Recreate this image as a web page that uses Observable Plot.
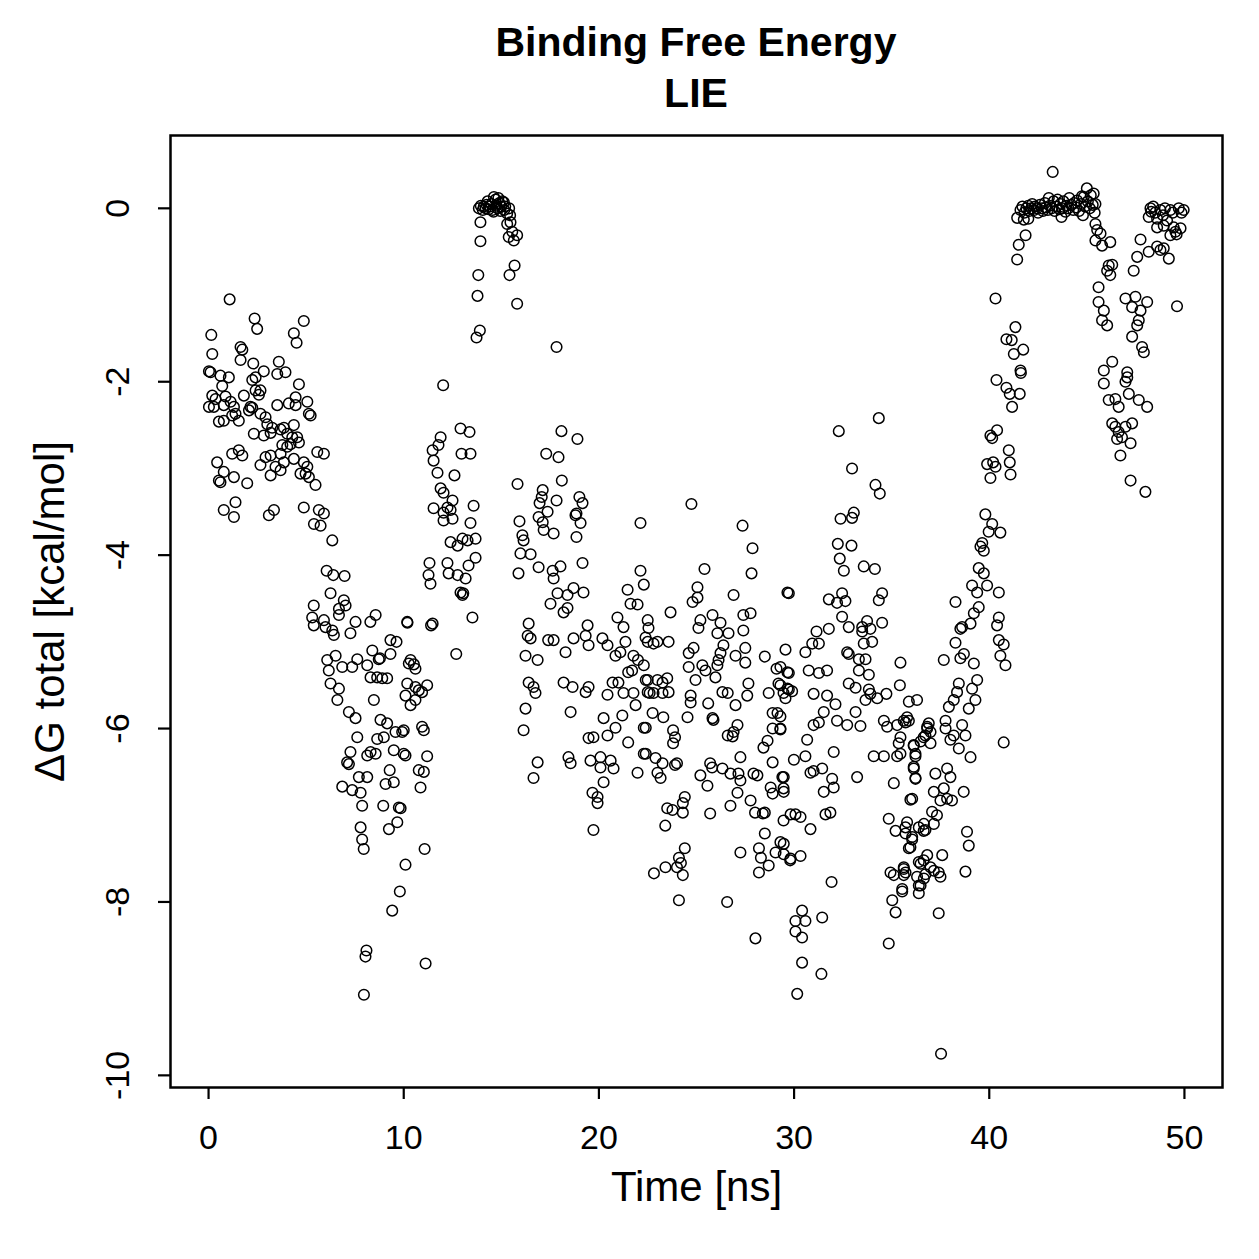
<!DOCTYPE html>
<html><head><meta charset="utf-8">
<script src="https://cdn.jsdelivr.net/npm/d3@7"></script>
<script src="https://cdn.jsdelivr.net/npm/@observablehq/plot@0.6"></script>
<style>
body{margin:0;background:#fff;}
#title{width:1259px;box-sizing:border-box;padding:17px 37px 0 170px;text-align:center;font:bold 41px/51px "Liberation Sans",Arial,sans-serif;height:120px;color:#000;}
#chart svg{display:block;}
</style></head><body>
<div id="title"></div>
<div id="chart"></div>
<script>
const titleLines = ["Binding Free Energy", "LIE"];
const xLabel = "Time [ns]";
const yLabel = "ΔG total [kcal/mol]";
const xTicks = [0, 10, 20, 30, 40, 50];
const yTicks = [0, -2, -4, -6, -8, -10];

// [time (ns), ΔG total (kcal/mol)]
const early = [[1.08,-1.05],[2.36,-1.27],[2.49,-1.39],[4.88,-1.3],[4.37,-1.44],[4.51,-1.55],[0.14,-1.46],[0.19,-1.68],[0.02,-1.88],[0.1,-1.89],[1.64,-1.6],[1.73,-1.63],[1.64,-1.75],[2.29,-1.79],[2.41,-1.95],[2.24,-1.98],[2.83,-1.88],[3.6,-1.77],[3.52,-1.91],[3.94,-1.89],[4.63,-2.03],[0.61,-1.93],[1.04,-1.95],[0.7,-2.05],[0.19,-2.16],[0.36,-2.2],[0.27,-2.29],[0.02,-2.29],[0.87,-2.17],[1.13,-2.23],[0.78,-2.27],[1.3,-2.29],[1.81,-2.16],[2.15,-2.29],[2.41,-2.1],[2.58,-2.15],[2.66,-2.1],[3.52,-2.27],[4.11,-2.25],[4.46,-2.27],[4.46,-2.18],[5.06,-2.23],[5.14,-2.37],[5.23,-2.39],[0.53,-2.46],[0.78,-2.45],[1.21,-2.39],[1.38,-2.37],[1.55,-2.45],[2.07,-2.33],[2.24,-2.3],[2.66,-2.37],[2.92,-2.41],[3.01,-2.49],[3.26,-2.53],[3.18,-2.59],[3.69,-2.55],[3.86,-2.53],[4.03,-2.6],[4.37,-2.5],[4.29,-2.64],[4.54,-2.64],[4.63,-2.7],[4.2,-2.72],[4.03,-2.75],[3.78,-2.73],[0.44,-2.93],[0.78,-3.04],[0.53,-3.14],[0.61,-3.16],[1.3,-3.1],[1.98,-3.17],[1.38,-3.39],[0.78,-3.48],[1.3,-3.56],[1.21,-2.83],[1.55,-2.79],[1.73,-2.85],[2.32,-2.6],[2.83,-2.62],[2.92,-2.87],[3.18,-2.85],[3.69,-2.83],[2.66,-2.96],[3.43,-2.98],[3.69,-3.02],[3.18,-3.08],[3.86,-2.93],[4.37,-2.89],[4.88,-2.93],[4.71,-3.06],[4.97,-3.06],[5.14,-3.1],[5.06,-2.98],[5.48,-3.19],[5.57,-2.81],[5.91,-2.83],[5.65,-3.48],[5.91,-3.52],[5.4,-3.64],[5.74,-3.66],[3.09,-3.54],[3.35,-3.48],[4.88,-3.45]];

const drop = [[6.34,-3.83],[6.05,-4.18],[6.39,-4.23],[6.97,-4.24],[6.25,-4.44],[6.93,-4.52],[7.02,-4.58],[6.68,-4.62],[6.68,-4.69],[5.39,-4.58],[5.31,-4.72],[5.39,-4.81],[5.91,-4.75],[5.99,-4.83],[6.34,-4.87],[6.42,-4.92],[7.27,-4.9],[7.53,-4.77],[8.29,-4.77],[8.56,-4.69],[10.18,-4.77],[11.4,-4.81],[9.32,-4.98],[9.63,-5.0],[8.39,-5.1],[8.78,-5.19],[9.32,-5.14],[10.35,-5.21],[10.52,-5.26],[10.6,-5.31],[10.26,-5.25],[10.18,-5.48],[10.6,-5.52],[10.77,-5.56],[10.94,-5.58],[11.2,-5.5],[10.09,-5.62],[10.35,-5.73],[10.6,-5.67],[6.08,-5.21],[6.51,-5.16],[6.85,-5.29],[6.16,-5.33],[6.25,-5.48],[6.68,-5.54],[6.6,-5.67],[7.62,-5.2],[7.36,-5.29],[8.13,-5.27],[8.72,-5.2],[8.3,-5.41],[8.64,-5.41],[8.9,-5.42],[9.15,-5.42],[8.47,-5.67],[7.19,-5.81],[7.53,-5.88],[8.81,-5.9],[9.15,-5.94],[9.58,-6.04],[10.0,-6.02],[9.92,-6.04],[10.94,-5.98],[11.03,-6.02],[8.64,-6.12],[8.98,-6.1],[7.62,-6.1],[7.27,-6.27],[7.1,-6.39],[7.19,-6.41],[8.13,-6.31],[8.3,-6.27],[8.56,-6.29],[9.49,-6.25],[10.0,-6.29],[10.09,-6.31],[11.2,-6.32],[7.7,-6.56],[8.13,-6.56],[6.85,-6.67],[7.36,-6.71],[7.79,-6.74],[7.87,-6.89],[9.28,-6.48],[9.07,-6.64],[9.49,-6.62],[10.77,-6.48],[11.03,-6.5],[10.86,-6.68],[8.95,-6.89],[9.75,-6.91],[9.84,-6.92],[9.67,-7.08],[9.24,-7.16],[7.79,-7.14],[7.87,-7.28],[7.95,-7.39],[11.07,-7.39],[10.09,-7.57],[9.8,-7.88],[9.41,-8.1],[8.09,-8.56],[8.04,-8.63],[11.12,-8.71],[7.96,-9.07]];

const rise1 = [[12.02,-2.04],[12.91,-2.54],[13.37,-2.58],[11.89,-2.64],[11.78,-2.73],[11.48,-2.79],[11.53,-2.91],[11.73,-3.05],[12.96,-2.83],[13.42,-2.83],[12.6,-3.08],[11.89,-3.23],[12.04,-3.28],[12.5,-3.37],[12.24,-3.45],[11.53,-3.46],[12.04,-3.51],[12.5,-3.58],[12.04,-3.6],[12.4,-3.48],[13.58,-3.43],[13.42,-3.63],[12.4,-3.85],[12.76,-3.89],[13.01,-3.81],[13.27,-3.83],[13.68,-3.81],[13.68,-4.03],[13.32,-4.12],[11.32,-4.09],[11.27,-4.23],[11.37,-4.33],[12.24,-4.09],[12.3,-4.21],[12.76,-4.23],[13.17,-4.27],[12.91,-4.43],[13.01,-4.46],[10.19,-4.78],[11.48,-4.79],[13.52,-4.72],[12.69,-5.14],[13.05,-4.44]];

const bound1 = [[13.93,-0.16],[13.93,-0.38],[13.82,-0.77],[13.78,-1.01],[13.9,-1.41],[13.73,-1.49],[15.42,-0.77],[15.68,-0.66],[15.81,-1.1],[15.3,-0.18],[15.47,-0.16],[15.56,-0.27],[15.81,-0.31],[15.64,-0.37],[15.38,-0.33],[14.62,0.13],[15.13,0.07],[13.85,0.0],[13.95,0.03],[14.05,-0.02],[14.1,0.02],[14.2,0.0],[14.25,0.04],[14.35,-0.01],[14.4,0.02],[14.5,0.05],[14.55,-0.02],[14.7,0.1],[14.75,0.03],[14.8,0.0],[14.9,0.06],[14.95,-0.03],[15.0,0.02],[15.05,0.08],[15.15,-0.02],[15.2,0.02],[15.3,-0.06],[15.4,0.0],[15.45,-0.08],[14.3,0.08],[14.6,-0.04],[14.85,0.12]];

const mid = [[17.83,-1.6],[18.08,-2.57],[18.9,-2.66],[17.3,-2.83],[17.93,-2.87],[18.1,-3.14],[15.83,-3.18],[17.12,-3.25],[17.07,-3.33],[16.96,-3.4],[17.83,-3.37],[17.37,-3.5],[19.0,-3.33],[19.16,-3.4],[18.85,-3.52],[16.91,-3.56],[17.12,-3.62],[17.17,-3.71],[17.68,-3.75],[18.8,-3.54],[19.06,-3.63],[18.85,-3.79],[15.93,-3.61],[16.08,-3.77],[16.14,-3.83],[15.98,-3.98],[16.5,-3.99],[15.88,-4.21],[22.13,-3.63],[16.91,-4.14],[17.63,-4.18],[18.03,-4.13],[17.68,-4.27],[19.16,-4.09],[22.13,-4.18],[22.3,-4.34],[21.47,-4.4],[21.62,-4.56],[21.98,-4.57],[17.88,-4.44],[18.39,-4.46],[18.7,-4.38],[19.21,-4.43],[17.52,-4.56],[18.19,-4.66],[18.39,-4.61],[16.4,-4.79],[16.35,-4.93],[16.5,-4.96],[17.4,-4.98],[17.68,-4.98],[18.7,-4.96],[19.42,-4.81],[19.32,-4.93],[19.47,-5.04],[16.24,-5.16],[16.86,-5.21],[18.29,-5.12],[20.95,-4.72],[21.26,-4.83],[20.18,-4.96],[20.44,-5.04],[20.85,-5.16],[21.1,-5.12],[21.36,-5.0],[21.77,-5.16],[22.0,-5.21],[21.5,-5.35],[21.7,-5.33],[22.3,-5.27],[22.5,-4.75],[22.5,-5.0],[16.4,-5.47],[16.65,-5.52],[16.75,-5.59],[18.19,-5.47],[18.65,-5.52],[19.32,-5.58],[19.47,-5.52],[20.44,-5.61],[20.7,-5.47],[21.0,-5.47],[21.26,-5.59],[21.77,-5.59],[22.5,-5.44],[22.6,-5.59],[21.88,-5.73],[21.2,-5.85],[16.24,-5.77],[16.14,-6.02],[18.55,-5.81],[20.24,-5.88],[20.85,-5.99],[20.44,-6.08],[19.72,-6.1],[19.47,-6.11],[21.5,-6.16],[22.3,-5.99],[16.86,-6.39],[16.65,-6.57],[18.44,-6.33],[18.55,-6.4],[19.57,-6.37],[20.08,-6.33],[20.6,-6.37],[20.75,-6.46],[20.08,-6.45],[21.98,-6.51],[22.3,-6.29],[20.24,-6.62],[19.67,-6.74],[19.93,-6.79],[19.93,-6.86],[19.72,-7.17],
[24.74,-3.41],[27.36,-3.66],[27.87,-3.92],[27.82,-4.21],[25.41,-4.16],[25.05,-4.37],[25.05,-4.49],[24.8,-4.54],[26.9,-4.46],[29.66,-4.43],[23.67,-4.66],[27.4,-4.69],[27.77,-4.67],[22.54,-4.84],[22.39,-4.95],[22.8,-5.02],[23.57,-5.0],[23.0,-5.0],[25.2,-4.75],[25.1,-4.84],[25.82,-4.69],[26.23,-4.78],[26.07,-4.9],[26.64,-4.9],[27.4,-4.87],[26.38,-5.04],[26.23,-5.13],[26.13,-5.21],[27.0,-5.16],[27.5,-5.07],[27.5,-5.24],[24.6,-5.13],[24.85,-5.07],[24.6,-5.29],[25.3,-5.27],[25.46,-5.33],[26.07,-5.27],[25.97,-5.41],[24.95,-5.44],[28.5,-5.17],[29.1,-5.31],[29.66,-5.35],[29.2,-5.48],[28.7,-5.59],[29.46,-5.59],[29.66,-5.54],[22.4,-5.44],[22.5,-5.58],[23.0,-5.44],[23.26,-5.47],[23.5,-5.42],[22.8,-5.59],[23.26,-5.59],[23.57,-5.58],[22.75,-5.82],[23.3,-5.87],[22.4,-5.99],[24.7,-5.62],[24.7,-5.7],[25.6,-5.71],[26.33,-5.58],[26.6,-5.59],[27.0,-5.73],[27.6,-5.62],[27.66,-5.48],[24.54,-5.87],[25.82,-5.88],[25.87,-5.9],[27.1,-5.96],[26.9,-6.04],[26.6,-6.08],[26.85,-6.09],[23.8,-6.02],[23.9,-6.1],[23.8,-6.17],[28.9,-5.82],[29.15,-5.82],[28.9,-6.0],[29.3,-6.0],[28.64,-6.14],[28.43,-6.22],[28.9,-6.39],[22.4,-6.29],[22.9,-6.34],[23.26,-6.4],[23.0,-6.51],[23.16,-6.57],[23.9,-6.42],[24.0,-6.4],[25.2,-6.54],[25.56,-6.66],[25.7,-6.4],[25.8,-6.45],[26.33,-6.46],[26.74,-6.52],[27.15,-6.52],[27.25,-6.6],[27.1,-6.74],[27.25,-6.33],[27.92,-6.52],[28.12,-6.54],[27.77,-6.83],[28.0,-6.97],[28.4,-6.98],[28.5,-6.97],[26.74,-6.89],[28.8,-6.68],[29.4,-6.56],[29.46,-6.69],[28.9,-6.75],[23.5,-6.92],[23.77,-6.94],[24.3,-6.97],[24.4,-6.79],[24.3,-6.86],[25.7,-6.98],[23.4,-7.12],[28.5,-7.21],[29.46,-7.06],[24.4,-7.38],[24.1,-7.49],[24.2,-7.55],[24.0,-7.6],[24.3,-7.69],[23.41,-7.6],[22.82,-7.67],[27.25,-7.43],[28.2,-7.38],[28.3,-7.49],[28.7,-7.58],[29.05,-7.43],[29.3,-7.31],[28.2,-7.66],[24.1,-7.98],[26.57,-8.0],[28.02,-8.42],[29.8,-7.52]];

const late = [[34.34,-2.42],[32.29,-2.57],[32.97,-3.0],[34.17,-3.19],[34.39,-3.29],[32.38,-3.58],[32.97,-3.57],[33.06,-3.51],[32.24,-3.87],[32.94,-3.89],[32.34,-4.04],[32.55,-4.18],[33.57,-4.13],[34.14,-4.16],[29.73,-4.44],[31.78,-4.51],[32.2,-4.55],[32.46,-4.44],[32.63,-4.53],[34.34,-4.52],[34.51,-4.44],[32.46,-4.71],[32.8,-4.83],[33.49,-4.83],[33.74,-4.76],[33.91,-4.85],[34.51,-4.78],[31.15,-4.88],[31.78,-4.85],[30.93,-5.02],[30.58,-5.12],[31.27,-5.02],[33.49,-4.88],[33.57,-5.02],[34.0,-5.0],[29.56,-5.09],[32.72,-5.12],[32.8,-5.14],[33.32,-5.2],[33.66,-5.2],[33.32,-5.33],[33.83,-5.38],[35.45,-5.24],[30.75,-5.33],[31.27,-5.36],[31.69,-5.33],[29.73,-5.36],[29.3,-5.29],[32.8,-5.48],[33.15,-5.53],[33.83,-5.55],[33.91,-5.6],[33.66,-5.67],[34.26,-5.65],[34.73,-5.6],[35.42,-5.5],[29.3,-5.5],[29.73,-5.55],[29.56,-5.65],[29.9,-5.57],[31.0,-5.6],[31.69,-5.62],[32.12,-5.72],[35.88,-5.69],[36.3,-5.67],[31.52,-5.81],[31.27,-5.93],[31.0,-5.96],[32.2,-5.91],[32.72,-5.96],[33.15,-5.81],[33.4,-5.97],[29.3,-5.86],[29.3,-6.01],[34.6,-5.91],[34.77,-5.98],[35.28,-5.96],[35.62,-5.91],[35.88,-5.91],[36.82,-5.98],[36.73,-6.08],[36.48,-6.15],[30.67,-6.13],[30.58,-6.32],[30.84,-6.51],[31.0,-6.49],[31.44,-6.46],[29.99,-6.36],[32.03,-6.27],[34.08,-6.32],[34.6,-6.32],[35.28,-6.32],[35.36,-6.17],[36.13,-6.2],[36.22,-6.32],[36.13,-6.46],[36.22,-6.58],[35.96,-6.82],[35.11,-6.63],[33.23,-6.56],[31.95,-6.58],[32.03,-6.68],[31.52,-6.73],[31.86,-6.97],[31.61,-6.99],[29.47,-6.56],[29.47,-6.73],[34.85,-7.04],[35.2,-7.18],[35.71,-7.14],[36.05,-7.28],[35.88,-7.38],[36.39,-7.14],[36.64,-7.18],[29.82,-6.99],[30.07,-6.99],[30.33,-7.02],[30.84,-7.16],[29.47,-7.33],[29.47,-7.45],[29.82,-7.5],[30.33,-7.47],[34.94,-7.66],[35.11,-7.69],[35.62,-7.62],[35.62,-7.69],[35.54,-7.88],[35.03,-7.98],[35.2,-8.12],[34.85,-8.48],[36.39,-7.54],[36.64,-7.52],[36.3,-7.71],[36.48,-7.81],[36.39,-7.9],[31.92,-7.77],[31.44,-8.18],[30.41,-8.1],[30.07,-8.22],[30.58,-8.22],[30.07,-8.34],[30.41,-8.41],[30.41,-8.7],[31.4,-8.83],[30.16,-9.06],
[38.27,-4.54],[39.46,-4.6],[39.21,-4.67],[39.04,-4.79],[38.52,-4.85],[38.27,-5.01],[37.67,-5.21],[38.52,-5.19],[38.7,-5.14],[39.21,-5.25],[40.4,-4.81],[40.49,-4.98],[40.57,-5.16],[38.44,-5.48],[38.35,-5.58],[38.18,-5.67],[37.93,-5.75],[39.38,-5.44],[39.12,-5.54],[39.29,-5.67],[38.95,-5.77],[35.79,-5.87],[35.71,-5.93],[36.9,-5.94],[36.82,-6.0],[36.99,-6.04],[36.64,-6.1],[36.99,-6.17],[36.13,-6.19],[36.22,-6.29],[35.45,-6.1],[35.45,-6.29],[37.76,-5.91],[37.76,-6.0],[38.18,-6.08],[38.44,-6.23],[38.61,-5.96],[38.78,-6.08],[39.04,-6.33],[38.01,-6.13],[36.13,-6.44],[36.22,-6.57],[37.24,-6.52],[37.84,-6.46],[38.01,-6.56],[36.05,-6.81],[37.16,-6.73],[37.67,-6.69],[37.84,-6.81],[38.09,-6.83],[38.69,-6.73],[37.5,-6.83],[37.07,-6.96],[37.32,-7.0],[37.16,-7.1],[36.65,-7.1],[36.73,-7.17],[35.79,-7.08],[35.71,-7.21],[36.05,-7.25],[35.96,-7.37],[38.86,-7.19],[38.95,-7.35],[38.78,-7.65],[37.59,-7.46],[36.82,-7.46],[36.48,-7.56],[36.99,-7.6],[37.16,-7.64],[37.41,-7.66],[37.5,-7.71],[36.73,-7.68],[36.65,-7.73],[36.39,-7.81],[35.62,-7.6],[35.71,-7.66],[35.54,-7.85],[37.41,-8.13],[37.53,-9.75]];

const rise2 = [[41.43,-0.11],[41.77,-0.13],[41.86,-0.31],[41.51,-0.42],[41.43,-0.59],[40.32,-1.04],[41.34,-1.37],[40.88,-1.51],[41.15,-1.52],[41.74,-1.63],[41.26,-1.68],[41.6,-1.87],[41.62,-1.9],[40.37,-1.98],[40.88,-2.07],[41.05,-2.14],[41.56,-2.14],[41.17,-2.29],[40.06,-2.62],[40.4,-2.56],[40.15,-2.65],[41.0,-2.79],[39.89,-2.95],[40.2,-2.93],[40.32,-2.98],[40.06,-3.11],[41.05,-2.93],[41.09,-3.07],[39.8,-3.53],[40.15,-3.64],[39.97,-3.73],[40.57,-3.74],[39.64,-3.86],[39.55,-3.9],[39.72,-3.95],[39.46,-4.15],[39.72,-4.21],[39.12,-4.35],[39.89,-4.35],[39.38,-4.43],[40.49,-4.43],[38.61,-4.83],[40.49,-4.72],[40.74,-5.03],[40.83,-5.27],[40.74,-6.16]];

const bound2 = [[41.6,-0.02],[41.7,0.02],[41.8,-0.05],[41.9,0.0],[42.0,0.03],[42.05,-0.03],[42.15,0.0],[42.2,0.05],[42.3,-0.02],[42.35,0.02],[42.45,0.0],[42.5,-0.05],[42.6,0.04],[42.7,0.0],[42.75,-0.03],[42.85,0.06],[42.9,0.01],[43.0,-0.02],[43.05,0.12],[43.1,0.03],[43.2,0.0],[43.25,0.42],[43.3,0.08],[43.35,-0.03],[43.45,0.02],[43.5,0.1],[43.6,-0.01],[43.65,0.05],[43.75,0.0],[43.8,0.08],[43.9,-0.04],[43.95,0.03],[44.05,0.0],[44.1,0.12],[44.2,0.04],[44.3,-0.02],[44.35,0.06],[44.45,0.01],[44.5,0.09],[44.6,-0.03],[44.7,0.05],[44.75,0.14],[44.84,0.13],[44.9,0.02],[45.0,0.23],[45.05,0.08],[45.15,0.0],[45.2,0.15],[45.35,0.17],[45.3,0.04],[45.44,0.05],[45.4,-0.05],[42.0,-0.12],[43.7,-0.1],[44.8,-0.08],[45.44,-0.18],[45.53,-0.25],[45.7,-0.29],[45.44,-0.37],[45.78,-0.43],[46.2,-0.39]];

const tail = [[46.12,-0.66],[46.3,-0.65],[46.04,-0.72],[46.2,-0.77],[45.6,-0.91],[45.6,-1.08],[45.87,-1.18],[45.78,-1.29],[46.04,-1.35],[46.98,-1.04],[47.49,-1.02],[48.09,-1.08],[47.32,-1.14],[47.75,-1.18],[47.66,-1.29],[47.58,-1.35],[47.32,-1.48],[47.83,-1.6],[47.92,-1.66],[49.62,-1.13],[46.3,-1.77],[45.87,-1.87],[45.87,-2.02],[47.07,-1.89],[47.07,-1.95],[46.98,-2.0],[47.15,-2.14],[47.66,-2.21],[48.09,-2.29],[46.12,-2.21],[46.46,-2.2],[46.63,-2.29],[46.3,-2.48],[46.46,-2.52],[46.63,-2.58],[46.8,-2.64],[46.55,-2.66],[46.98,-2.52],[47.32,-2.48],[47.24,-2.71],[46.72,-2.85],[47.24,-3.14],[48.0,-3.27],[48.26,0.0],[48.77,-0.02],[49.28,-0.02],[49.71,0.0],[49.96,-0.02],[48.17,-0.1],[48.6,-0.12],[49.11,-0.14],[49.45,-0.22],[49.8,-0.23],[49.54,-0.27],[49.28,-0.31],[48.94,-0.2],[48.6,-0.22],[47.75,-0.36],[47.58,-0.56],[47.4,-0.72],[48.17,-0.5],[48.6,-0.44],[48.94,-0.46],[49.2,-0.58],[48.77,-0.48],[48.4,0.02],[48.5,-0.05],[49.0,0.0],[49.4,-0.05],[49.6,-0.3],[49.85,-0.05],[48.3,-0.04],[48.9,-0.08]];

const points = [...early, ...drop, ...rise1, ...bound1, ...mid, ...late, ...rise2, ...bound2, ...tail]
  .map(([t, g]) => ({time: t, dG: g}));

const font = '"Liberation Sans", Arial, Helvetica, sans-serif';

const chart = Plot.plot({
  width: 1259,
  height: 1139,
  marginLeft: 170,
  marginRight: 37,
  marginTop: 15,
  marginBottom: 172,
  style: {fontFamily: font, background: "white", color: "black"},
  x: {domain: [-1.95, 51.95]},
  y: {domain: [-10.14, 0.84]},
  marks: [
    Plot.dot(points, {x: "time", y: "dG", r: 5.3, stroke: "black", strokeWidth: 1.5, fill: "none"}),
    Plot.frame({stroke: "black", strokeWidth: 2.5}),
    Plot.axisX({ticks: xTicks, tickSize: 12, tickFormat: () => "", strokeWidth: 2.2, label: null}),
    Plot.axisY({ticks: yTicks, tickSize: 12, tickFormat: () => "", strokeWidth: 2.2, label: null}),
    Plot.text(xTicks, {x: d => d, frameAnchor: "bottom", dy: 61, text: d => String(d), fontSize: 34, textAnchor: "middle"}),
    Plot.text(yTicks, {y: d => d, frameAnchor: "left", dx: -52, rotate: -90, text: d => String(d), fontSize: 34, textAnchor: "middle"}),
    Plot.text([xLabel], {frameAnchor: "bottom", dy: 113, text: d => d, fontSize: 42, textAnchor: "middle"}),
    Plot.text([yLabel], {frameAnchor: "left", dx: -120, rotate: -90, text: d => d, fontSize: 42, textAnchor: "middle"})
  ]
});
document.getElementById("title").innerHTML = titleLines.join("<br>");
document.getElementById("chart").appendChild(chart);
</script></body></html>
